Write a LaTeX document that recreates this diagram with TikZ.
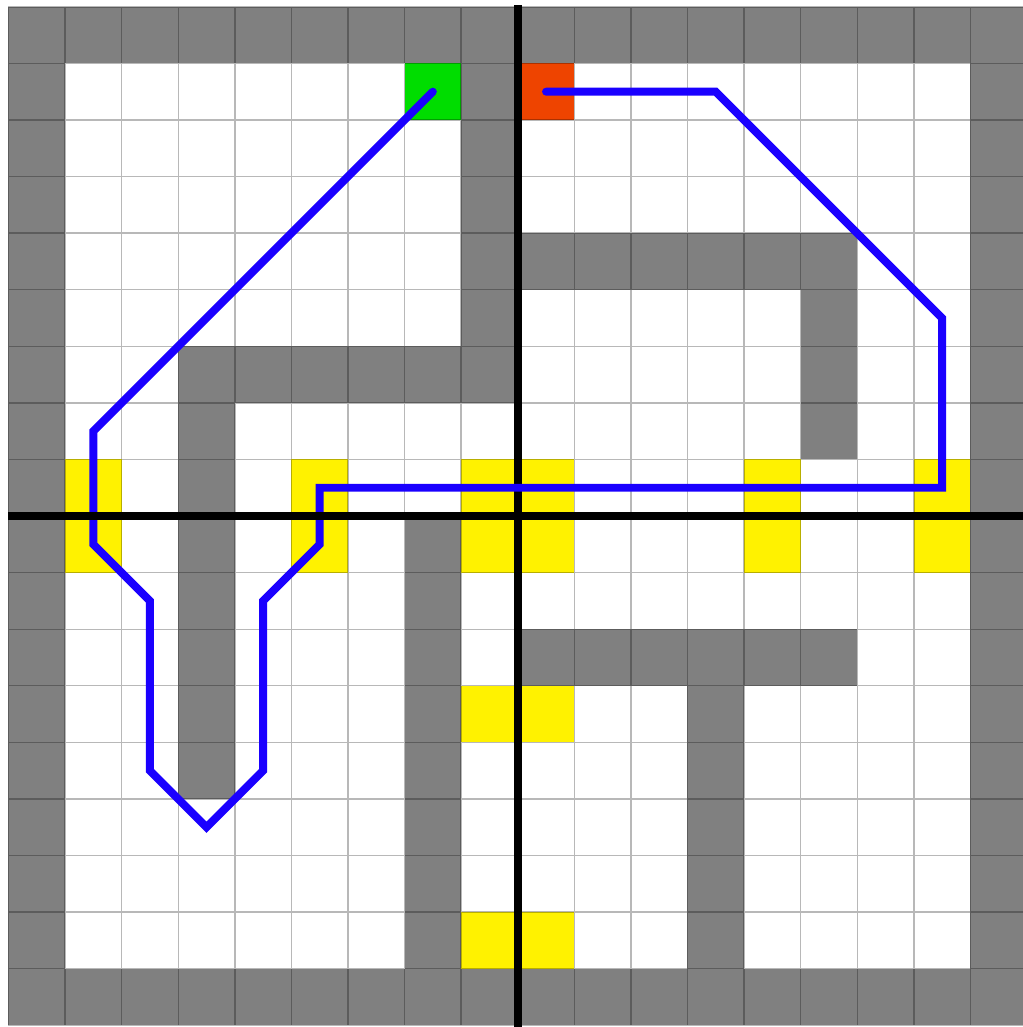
\documentclass[tikz,border=0pt]{standalone}
\usepackage{tikz}
\definecolor{wallgray}{RGB}{128,128,128}
\definecolor{goalgreen}{RGB}{0,221,0}
\definecolor{startred}{RGB}{238,68,0}
\definecolor{zoneyellow}{RGB}{255,242,0}
\definecolor{pathblue}{RGB}{26,0,255}
\tikzset{
  wall/.style={fill=wallgray},
  zone/.style={fill=zoneyellow},
  gridline/.style={draw=black,opacity=0.28,line width=0.7pt},
  axis/.style={line width=4pt,black},
  route/.style={line width=4pt,pathblue,line cap=round}
}
\begin{document}
\begin{tikzpicture}[x=1cm,y=1cm]
  \useasboundingbox (-9.15,-9.03) rectangle (8.92,9.12);
  % outer walls
  \fill[wall] (-9,8) rectangle (9,9);
  \fill[wall] (-9,-9) rectangle (9,-8);
  \fill[wall] (-9,-8) rectangle (-8,8);
  \fill[wall] (8,-8) rectangle (9,8);
  % inner walls
  \foreach \a/\b in {{(-1,2)}/{(0,8)}, {(-6,2)}/{(0,3)}, {(-6,-5)}/{(-5,2)},
                     {(0,4)}/{(6,5)}, {(5,1)}/{(6,4)}, {(-2,-8)}/{(-1,0)},
                     {(0,-3)}/{(6,-2)}, {(3,-8)}/{(4,-3)}}
    \fill[wall] \a rectangle \b;
  % yellow cells
  \foreach \a/\b in {{(-8,-1)}/{(-7,1)}, {(-4,-1)}/{(-3,1)}, {(-1,-1)}/{(1,1)},
                     {(4,-1)}/{(5,1)}, {(7,-1)}/{(8,1)}, {(-1,-4)}/{(1,-3)},
                     {(-1,-8)}/{(1,-7)}}
    \fill[zone] \a rectangle \b;
  % start and goal
  \fill[goalgreen] (-2,7) rectangle (-1,8);
  \fill[startred] (0,7) rectangle (1,8);
  \draw[gridline] (-9,-9) grid (9,9);
  \draw[axis] (0,-9.1) -- (0,9.03);
  % path
  \coordinate (goal) at (-1.5,7.5);
  \coordinate (start) at (0.5,7.5);
  \draw[route] (goal) -- (-7.5,1.5) -- (-7.5,-0.5) -- (-6.5,-1.5) -- (-6.5,-4.5)
    -- (-5.5,-5.5) -- (-4.5,-4.5) -- (-4.5,-1.5) -- (-3.5,-0.5) -- (-3.5,0.5)
    -- (7.5,0.5) -- (7.5,3.5) -- (3.5,7.5) -- (start);
  \draw[axis] (-9,0) -- (9,0);
\end{tikzpicture}
\end{document}
